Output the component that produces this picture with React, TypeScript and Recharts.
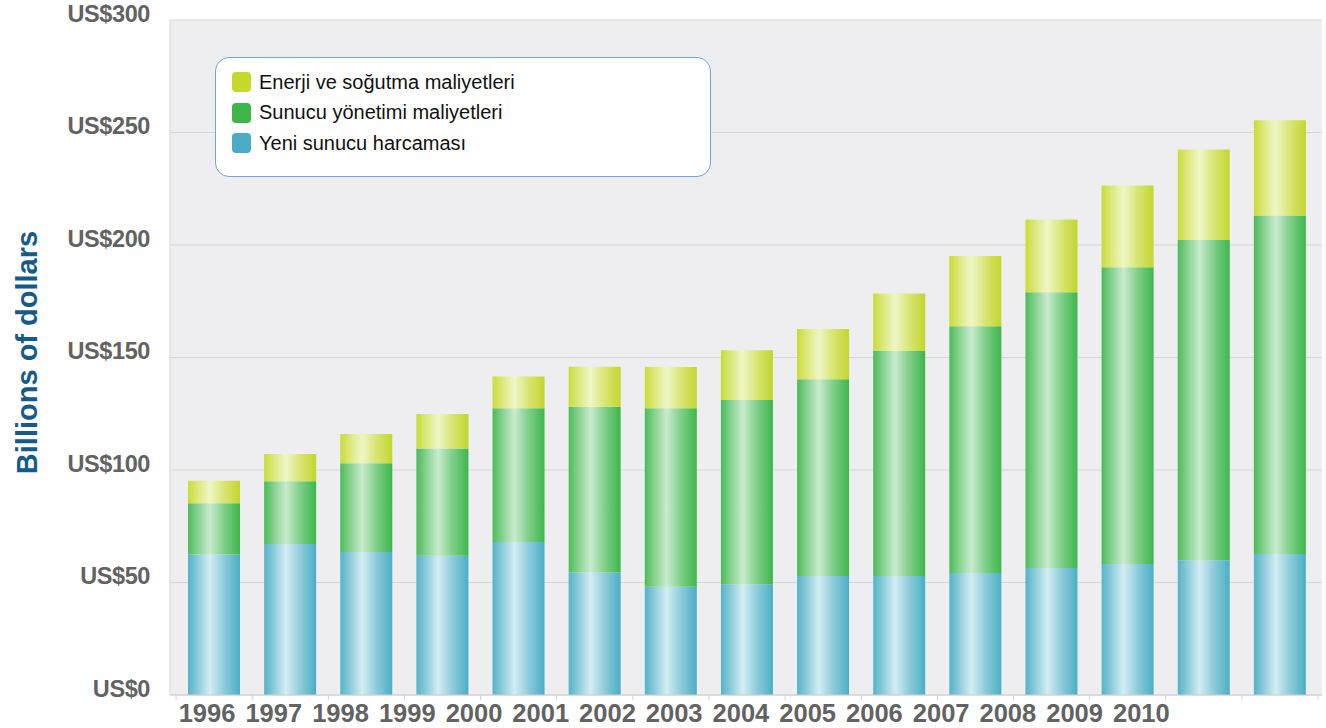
import React from 'react';
import { BarChart, Bar, XAxis, YAxis, CartesianGrid, Legend, Label } from 'recharts';

const years = ['1996', '1997', '1998', '1999', '2000', '2001', '2002', '2003', '2004', '2005', '2006', '2007', '2008', '2009', '2010'];
// stacked segments, billions of dollars
const newServerSpend = [62.4, 67.1, 63.6, 61.9, 68, 54.4, 48.1, 49.2, 52.9, 52.9, 54.2, 56.4, 58.2, 59.9, 62.7];
const serverMgmtCost = [22.8, 27.9, 39.4, 47.7, 59.4, 73.7, 79.3, 81.9, 87.4, 100, 109.7, 122.6, 131.9, 142.3, 150.4];
const powerCoolingCost = [10, 12.1, 13, 15.3, 14.2, 17.8, 18.4, 22.1, 22.4, 25.6, 31.2, 32.3, 36.3, 40.2, 42.3];
const yTicks = [0, 50, 100, 150, 200, 250, 300];

const data = years.map((year, i) => ({
  year,
  yeni: newServerSpend[i],
  sunucu: serverMgmtCost[i],
  enerji: powerCoolingCost[i],
}));

const FONT = '"Liberation Sans", Arial, sans-serif';

const XTick = (props: any) => {
  const { x, y, payload, index } = props;
  const half = 38;
  return (
    <g>
      <line x1={x - half} x2={x - half} y1={y} y2={y + 5} stroke="#d0d0d4" />
      {index === years.length - 1 && <line x1={x + half} x2={x + half} y1={y} y2={y + 5} stroke="#d0d0d4" />}
      {/* labels in the original drift left of their bars */}
      <text x={x - 7 - index * 9.4} y={y + 27} textAnchor="middle" fill="#626262" fontSize={25.5} fontWeight="bold" fontFamily={FONT}>
        {payload.value}
      </text>
    </g>
  );
};

const YTick = (props: any) => {
  const { x, y, payload } = props;
  return (
    <text x={x - 20} y={y + 1.5} textAnchor="end" fill="#626262" fontSize={23.5} fontWeight="bold" letterSpacing={-0.4} fontFamily={FONT}>
      {'US$' + payload.value}
    </text>
  );
};

const renderTitle = (props: any) => {
  const vb = props.viewBox;
  const cx = vb.x + 27;
  const cy = vb.y + vb.height / 2 - 5;
  return (
    <text x={cx} y={cy} transform={`rotate(-90 ${cx} ${cy})`} textAnchor="middle" dominantBaseline="central" fill="#165b87" fontSize={29} fontWeight="bold" fontFamily={FONT}>
      Billions of dollars
    </text>
  );
};

const legendItems = [
  { name: 'Enerji ve soğutma maliyetleri', color: '#c5d92d' },
  { name: 'Sunucu yönetimi maliyetleri', color: '#3db54a' },
  { name: 'Yeni sunucu harcaması', color: '#4bacc6' },
];

const LegendBox = () => (
  <div
    style={{
      width: 496,
      height: 120,
      boxSizing: 'border-box',
      background: '#fff',
      border: '1.5px solid #72a3da',
      borderRadius: 14,
      paddingTop: 9,
      paddingLeft: 16,
      fontFamily: FONT,
    }}
  >
    {legendItems.map((it) => (
      <div key={it.name} style={{ display: 'flex', alignItems: 'center', height: 30.5 }}>
        <span style={{ width: 19, height: 20, borderRadius: 4, background: it.color, marginRight: 8 }} />
        <span style={{ fontSize: 20, color: '#111' }}>{it.name}</span>
      </div>
    ))}
  </div>
);

export default function App() {
  return (
    <div style={{ position: 'absolute', left: 0, top: 0, width: 1326, height: 728, background: '#fff' }}>
      <BarChart width={1326} height={728} data={data} margin={{ top: 20, right: 4, left: 0, bottom: 0 }} barSize={52}>
        <defs>
          <linearGradient id="gBlue" x1="0" y1="0" x2="1" y2="0">
            <stop offset="0%" stopColor="#56b3c8" />
            <stop offset="15%" stopColor="#80c6d6" />
            <stop offset="42%" stopColor="#d4edf3" />
            <stop offset="70%" stopColor="#8bcbd9" />
            <stop offset="100%" stopColor="#4aaec4" />
          </linearGradient>
          <linearGradient id="gGreen" x1="0" y1="0" x2="1" y2="0">
            <stop offset="0%" stopColor="#4bbb58" />
            <stop offset="15%" stopColor="#7bcd85" />
            <stop offset="42%" stopColor="#c9ebcd" />
            <stop offset="70%" stopColor="#7dcf87" />
            <stop offset="100%" stopColor="#3db64b" />
          </linearGradient>
          <linearGradient id="gYellow" x1="0" y1="0" x2="1" y2="0">
            <stop offset="0%" stopColor="#c8dc36" />
            <stop offset="15%" stopColor="#d8e670" />
            <stop offset="42%" stopColor="#eff6c7" />
            <stop offset="70%" stopColor="#d7e572" />
            <stop offset="100%" stopColor="#c2d62c" />
          </linearGradient>
        </defs>
        <CartesianGrid vertical={false} stroke="#d6d6d9" fill="#eeeef0" />
        <XAxis
          dataKey="year"
          height={33}
          padding={{ left: 6, right: 4 }}
          interval={0}
          tickSize={0}
          tickMargin={0}
          tickLine={false}
          axisLine={{ stroke: '#d0d0d4' }}
          tick={<XTick />}
        />
        <YAxis
          width={170}
          domain={[0, 300]}
          ticks={yTicks}
          interval={0}
          tickSize={0}
          tickMargin={0}
          tickLine={false}
          axisLine={{ stroke: '#d6d6d9' }}
          tick={<YTick />}
        >
          <Label content={renderTitle} />
        </YAxis>
        <Legend
          layout="horizontal"
          verticalAlign="middle"
          align="center"
          content={<LegendBox />}
          wrapperStyle={{ left: 215, top: 57, width: 496, height: 120 }}
        />
        <Bar dataKey="yeni" name="Yeni sunucu harcaması" stackId="a" fill="url(#gBlue)" isAnimationActive={false} />
        <Bar dataKey="sunucu" name="Sunucu yönetimi maliyetleri" stackId="a" fill="url(#gGreen)" isAnimationActive={false} />
        <Bar dataKey="enerji" name="Enerji ve soğutma maliyetleri" stackId="a" fill="url(#gYellow)" isAnimationActive={false} />
      </BarChart>
    </div>
  );
}
